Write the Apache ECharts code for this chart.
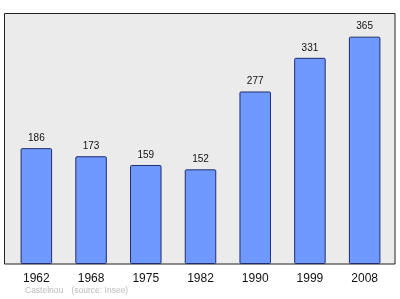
<!DOCTYPE html>
<html>
<head>
<meta charset="utf-8">
<script src="https://cdn.jsdelivr.net/npm/echarts@6/dist/echarts.min.js"></script>
<style>html,body{margin:0;padding:0;background:#fff}#c{width:400px;height:299px}</style>
</head>
<body>
<div id="c"></div>
<script>
var years = ['1962', '1968', '1975', '1982', '1990', '1999', '2008'];
var population = [186, 173, 159, 152, 277, 331, 365];
var sourceTexts = ['Castelnou', '(source: Insee)'];

var FONT = '"Liberation Sans", Arial, sans-serif';
var chart = echarts.init(document.getElementById('c'), null, {renderer: 'canvas'});
chart.setOption({
  animation: false,
  backgroundColor: '#ffffff',
  textStyle: {fontFamily: FONT},
  graphic: [
    {type: 'rect', z: -10, silent: true,
     shape: {x: 4.5, y: 13.5, width: 390.5, height: 250.5},
     style: {fill: '#ebebeb', stroke: '#222', lineWidth: 1}},
    {type: 'text', x: 25, y: 291, silent: true,
     style: {text: sourceTexts[0], fill: '#bbbbbb', fontSize: 8.5, fontFamily: FONT, textVerticalAlign: 'middle', verticalAlign: 'middle'}},
    {type: 'text', x: 71.5, y: 291, silent: true,
     style: {text: sourceTexts[1], fill: '#bbbbbb', fontSize: 8.5, fontFamily: FONT, textVerticalAlign: 'middle', verticalAlign: 'middle'}}
  ],
  grid: {left: 9, right: 8, top: 13, bottom: 35, containLabel: false},
  xAxis: {
    type: 'category',
    data: years,
    axisLine: {show: false},
    axisTick: {show: false},
    axisLabel: {color: '#111', fontSize: 12, margin: 9, fontFamily: FONT}
  },
  yAxis: {
    type: 'value', min: 0, max: 403, show: false,
    splitLine: {show: false}
  },
  series: [{
    type: 'bar',
    data: population,
    barWidth: 31.5,
    itemStyle: {color: '#7099ff', borderColor: '#1f2d6b', borderWidth: 1, borderRadius: 1},
    label: {show: true, position: 'top', distance: 5, color: '#111', fontSize: 10, fontFamily: FONT}
  }]
});
</script>
</body>
</html>
